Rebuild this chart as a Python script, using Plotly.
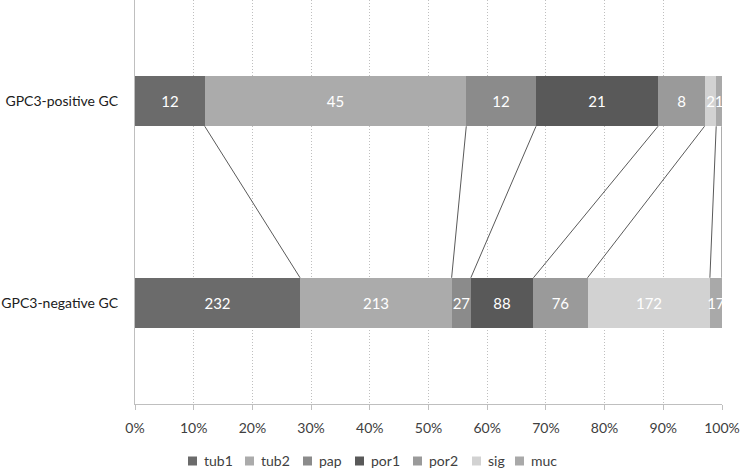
import plotly.graph_objects as go

groups = ["GPC3-positive GC", "GPC3-negative GC"]
types = ["tub1", "tub2", "pap", "por1", "por2", "sig", "muc"]
positive = [12, 45, 12, 21, 8, 2, 1]
negative = [232, 213, 27, 88, 76, 172, 17]
colors = ["#6b6b6b", "#ababab", "#8b8b8b", "#595959", "#9a9a9a", "#d2d2d2", "#a9a9a9"]
xticks = [0, 0.1, 0.2, 0.3, 0.4, 0.5, 0.6, 0.7, 0.8, 0.9, 1.0]
xticktext = ["0%", "10%", "20%", "30%", "40%", "50%", "60%", "70%", "80%", "90%", "100%"]

# layout constants (pixels)
W, H = 742, 470
ML, MR, MT, MB = 135, 20, 0, 66
legend_px = [188, 245, 303, 355, 413, 472, 515]
legend_py = 461

ypos = [1.5, 0.5]
bw = 0.25
tot_p = sum(positive)
tot_n = sum(negative)
frac_p = [v / tot_p for v in positive]
frac_n = [v / tot_n for v in negative]

fig = go.Figure()
for i, t in enumerate(types):
    fig.add_trace(go.Bar(
        name=t, orientation="h",
        y=ypos, x=[frac_p[i], frac_n[i]],
        text=[str(positive[i]), str(negative[i])],
        textposition="inside", insidetextanchor="middle",
        textfont=dict(color="white", size=15, family="Lato"),
        marker=dict(color=colors[i], line=dict(width=0)),
        width=bw, cliponaxis=False, showlegend=False,
    ))

# connector lines between cumulative boundaries
cp = 0.0
cn = 0.0
for i in range(len(types)):
    cp += frac_p[i]
    cn += frac_n[i]
    fig.add_trace(go.Scatter(
        x=[cp, cn], y=[ypos[0] - bw / 2, ypos[1] + bw / 2],
        mode="lines", line=dict(color="#5a5a5a", width=1),
        showlegend=False, hoverinfo="skip",
    ))

# manual legend (compact, like the original)
pw = W - ML - MR
ph = H - MT - MB
shapes = []
annotations = []
for i, t in enumerate(types):
    xa = (legend_px[i] - ML) / pw
    ya = (H - MB - legend_py) / ph
    shapes.append(dict(
        type="rect", xref="paper", yref="paper",
        xsizemode="pixel", ysizemode="pixel", xanchor=xa, yanchor=ya,
        x0=0, x1=9, y0=-4.5, y1=4.5,
        fillcolor=colors[i], line=dict(width=0),
    ))
    annotations.append(dict(
        xref="paper", yref="paper", x=xa + 14 / pw, y=ya,
        xanchor="left", yanchor="middle", showarrow=False,
        text=t, font=dict(size=14, color="#404040", family="Lato"),
    ))

fig.update_layout(
    barmode="stack",
    width=W, height=H,
    margin=dict(l=ML, r=MR, t=MT, b=MB),
    paper_bgcolor="white", plot_bgcolor="white",
    font=dict(family="Lato", color="#404040", size=14),
    uniformtext=dict(minsize=15, mode="show"),
    bargap=0,
    showlegend=False,
    shapes=shapes,
    annotations=annotations,
    xaxis=dict(
        range=[0, 1], tickvals=xticks, ticktext=xticktext,
        showgrid=True, gridcolor="#bfbfbf", griddash="1px,2px", gridwidth=1,
        showline=True, linecolor="#bfbfbf", linewidth=1,
        ticks="outside", ticklen=5, tickcolor="#bfbfbf",
        tickfont=dict(size=14, color="#404040", family="Lato"),
        zeroline=False, automargin=False, ticklabelstandoff=6,
    ),
    yaxis=dict(
        range=[0, 2], tickvals=ypos, ticktext=groups,
        showgrid=False, zeroline=False,
        showline=True, linecolor="#bfbfbf", linewidth=1,
        ticks="", tickfont=dict(size=14, color="#202020", family="Lato"),
        automargin=False, ticklabelstandoff=13,
    ),
)

fig.write_html(
    "out.html",
    config={"displayModeBar": False},
    post_script="document.body.style.margin='0';document.body.style.padding='0';",
)
